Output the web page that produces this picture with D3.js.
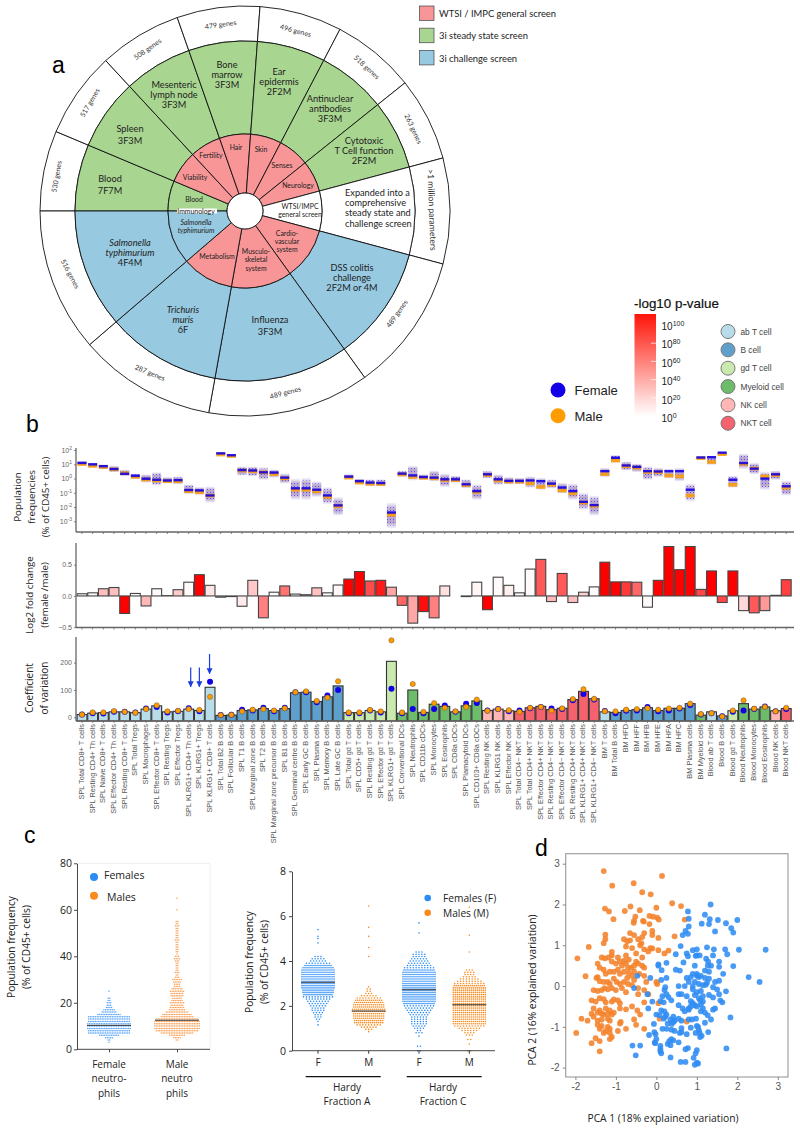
<!DOCTYPE html>
<html><head><meta charset="utf-8">
<script src="https://cdn.jsdelivr.net/npm/d3@7/dist/d3.min.js"></script>
<style>html,body{margin:0;background:#fff}svg{display:block}</style></head><body>
<script>
// ---------- panel a data ----------
const sectorAngles=[180,157.2,132.8,109.3,85.8,62.4,38.7,15,-15,-54.3,-100.2,-139.3,-180];
const innerScreen=["3iS","W","W","W","W","W","W","N","W","W","W","3iC"];
const middleScreen=["3iS","3iS","3iS","3iS","3iS","3iS","3iS","N","3iC","3iC","3iC","3iC"];
const screenNames=["WTSI / IMPC general screen","3i steady state screen","3i challenge screen"];
const geneLabels=["530 genes","517 genes","508 genes","479 genes","496 genes","518 genes","263 genes",">1 million parameters","489 genes","489 genes","287 genes","516 genes"];
// ---------- panel b data ----------
const categories=["SPL Total CD8+ T cells","SPL Resting CD4+ Th cells","SPL Naive CD8+ T cells","SPL Effector CD4+ Th cells","SPL Resting CD8+ T cells","SPL Total Tregs","SPL Macrophages","SPL Effector CD8+ T cells","SPL Resting Tregs","SPL Effector Tregs","SPL KLRG1+ CD4+ Th cells","SPL KLRG1+ Tregs","SPL KLRG1+ CD8+ T cells","SPL Total B2 B cells","SPL Follicular B cells","SPL T1 B cells","SPL Marginal zone B cells","SPL T2 B cells","SPL Marginal zone precursor B cells","SPL B1 B cells","SPL Germinal centre B cells","SPL Early GC B cells","SPL Plasma cells","SPL Memory B cells","SPL Late GC B cells","SPL Total gd T cells","SPL CD5+ gd T cells","SPL Resting gd T cells","SPL Effector gd T cells","SPL KLRG1+ gd T cells","SPL Conventional DCs","SPL Neutrophils","SPL CD11b cDCs","SPL Monocytes","SPL Eosinophils","SPL CD8a cDCs","SPL Plamacytoid DCs","SPL CD103+ CD8a cDCs","SPL Resting NK cells","SPL KLRG1 NK cells","SPL Effector NK cells","SPL Total CD4− NKT cells","SPL Total CD4+ NKT cells","SPL Effector CD4+ NKT cells","SPL Resting CD4− NKT cells","SPL Effector CD4− NKT cells","SPL Resting CD4+ NKT cells","SPL KLRG1+ CD4+ NKT cells","SPL KLRG1+ CD4− NKT cells","BM T cells","BM Total B cells","BM HFD","BM HFF","BM HFB","BM HFE","BM HFA","BM HFC","BM Plasma cells","BM Myeloid cells","Blood ab T cells","Blood B cells","Blood gd T cells","Blood Neutrophils","Blood Monocytes","Blood Eosinophils","Blood NK cells","Blood NKT cells"];
const cellTypes=["ab T cell","B cell","gd T cell","Myeloid cell","NK cell","NKT cell"];
const cellColors=["#b9dcea","#5f9fcb","#c9e9ae","#6cbc6c","#ffb6b6","#f5616c"];
const categoryType=[0,0,0,0,0,0,0,0,0,0,0,0,0,1,1,1,1,1,1,1,1,1,1,1,1,2,2,2,2,2,3,3,3,3,3,3,3,3,4,4,4,5,5,5,5,5,5,5,5,0,1,1,1,1,1,1,1,1,3,0,1,2,3,3,3,4,5];
// population frequency summaries, log10 of %
const freqF=[1.08,.98,.85,.65,.32,.18,-.03,-.1,-.15,-.13,-.82,-.85,-1.2,1.75,1.62,.58,.55,.42,.4,.05,-.7,-.7,-.8,-1.2,-1.9,.12,-.2,-.3,-.33,-2.4,.33,.2,.09,.05,-.07,-.07,-.42,-.9,.28,-.07,-.18,-.18,-.15,-.2,-.37,-.65,-.9,-1.65,-1.88,.5,1.44,.9,.8,.5,.48,.5,.5,-.8,1.46,1.48,1.8,-.1,1.07,.68,-.02,.28,-.56];
const freqM=[1.05,.93,.85,.68,.42,.16,-.03,-.1,-.15,-.15,-.85,-.92,-1.15,1.72,1.62,.6,.55,.47,.35,.05,-.75,-.75,-.85,-1.25,-1.9,.1,-.25,-.33,-.35,-2.5,.33,.15,.09,.05,-.07,-.07,-.42,-.9,.28,-.1,-.18,-.18,-.3,-.55,-.4,-.8,-1,-1.65,-1.88,.35,1.3,.9,.8,.5,.48,.25,.2,-1.15,1.46,1.2,1.75,-.4,1.07,.75,.2,.28,-.6];
const freqLow=[.92,.75,.65,.45,.15,-.05,-.3,-.5,-.35,-.4,-1.1,-1.15,-1.7,1.65,1.5,.2,.15,-.1,.05,-.35,-1.5,-1.5,-1.3,-1.8,-2.6,-.05,-.4,-.55,-.55,-3.5,.1,-.15,-.1,-.2,-.6,-.3,-.7,-1.5,0,-.45,-.4,-.4,-.65,-.8,-.7,-1.05,-1.5,-2.2,-2.6,.1,1.1,.55,.45,-.1,.1,0,-.2,-1.6,1.35,.95,1.6,-.65,.65,.3,-.8,-.1,-1.2];
const freqHigh=[1.22,1.12,1,.9,.62,.35,.3,.45,.1,.15,-.4,-.6,-.55,1.85,1.72,.85,.85,.8,.65,.35,0,.05,-.2,-.6,-1.3,.3,0,-.05,-.05,-1.7,.55,.9,.3,.55,.35,.2,-.05,-.4,.55,.3,.1,.05,.15,.05,-.05,-.3,-.35,-1,-1.2,.75,1.65,1.2,1.05,.85,.75,.7,.75,-.35,1.55,1.6,1.85,.2,1.75,1.1,.5,.55,-.15];
const foldChange=[.035,.05,.115,.135,-.28,.04,-.16,.115,.005,.1,.22,.34,.17,-.02,-.01,-.165,.25,-.35,.06,.16,.03,.02,.13,.05,.175,.27,.39,.24,.25,.14,-.15,-.435,-.25,-.35,.16,0,-.01,.22,-.22,.3,.17,.05,.43,.585,-.09,.36,-.105,.06,.145,.54,.225,.225,.22,-.18,.25,.79,.42,.79,.105,.4,-.105,.4,-.235,-.27,-.235,.01,.26];
const pExponent=[2,2,25,25,100,2,28,2,2,20,2,100,10,2,2,8,22,50,2,55,2,2,24,2,3,100,100,70,90,35,60,35,95,50,12,2,2,4,100,2,6,2,2,65,28,65,25,18,2,100,100,78,60,2,100,100,100,100,72,100,72,100,15,65,40,2,75];
const cvBar=[10,15,17,20,20,17,30,42,20,22,30,25,110,7,8,25,27,32,25,32,90,92,58,75,115,17,17,25,20,205,15,100,18,48,40,20,42,60,25,30,24,22,35,40,28,33,65,95,68,20,18,25,28,35,25,33,33,50,8,20,5,24,50,30,38,24,32];
const cvF=[10,15,14,20,20,18,32,38,18,22,33,22,130,8,9,28,25,35,22,35,92,92,55,80,100,15,15,25,18,105,15,30,15,30,43,20,50,52,25,30,22,25,33,38,32,30,62,85,65,23,15,24,25,38,22,25,32,45,10,15,4,20,25,30,40,22,30];
const cvM=[10,18,18,23,20,17,30,44,22,24,30,27,75,8,9,22,28,30,25,33,92,95,60,72,132,18,18,27,22,282,18,122,20,52,35,22,38,65,24,30,26,20,35,38,25,33,67,103,68,22,22,28,30,33,28,32,35,50,12,15,3,25,62,32,38,22,35];
const pTicks=[0,20,40,60,80,100];
const sexNames=["Female","Male"];
// ---------- panel c data (rows of a binned swarm: value -> number of dots) ----------
const neutroFemale=[[3,1],[4,2],[5,5],[6,12],[7,25],[8,25],[9,26],[10,26],[11,26],[12,25],[13,25],[14,25],[15,14],[16,9],[17,7],[18,4],[19,3],[20,3],[21,2],[22,2],[25,1]];
const neutroMale=[[4,2],[5,5],[6,10],[7,20],[8,26],[9,28],[10,28],[11,28],[12,28],[13,26],[14,20],[15,18],[16,14],[17,10],[18,9],[19,8],[20,9],[21,7],[22,6],[23,8],[24,8],[25,9],[26,7],[27,4],[28,4],[29,5],[30,6],[31,3],[32,2],[33,3],[34,2],[35,2],[36,2],[37,2],[38,3],[39,4],[40,3],[41,1],[42,2],[43,2],[44,2],[45,2],[46,2],[47,3],[48,2],[49,2],[50,2],[51,2],[52,2],[53,3],[54,2],[55,2],[60,1],[65,1]];
const neutroMedians=[10.3,12.5];
const hardyAF=[[1.15,1],[1.3,1],[1.4,2],[1.5,3],[1.6,3],[1.7,4],[1.8,5],[1.9,5],[2,6],[2.1,7],[2.2,8],[2.3,9],[2.4,11],[2.5,15],[2.6,16],[2.7,16],[2.8,17],[2.9,17],[3,17],[3.1,17],[3.2,17],[3.3,17],[3.4,17],[3.5,17],[3.6,17],[3.7,16],[3.8,14],[3.9,9],[4,6],[4.1,5],[4.2,3],[4.8,1],[5,1],[5.1,1],[5.4,1]];
const hardyAM=[[.85,1],[.95,3],[1.05,6],[1.15,9],[1.25,15],[1.35,15],[1.45,16],[1.55,16],[1.65,16],[1.75,17],[1.85,17],[1.95,16],[2.05,16],[2.15,15],[2.25,14],[2.35,9],[2.45,6],[2.55,3],[2.65,2],[2.75,2],[2.85,1],[4.2,1],[4.6,1],[5.1,1],[5.5,1],[6.45,1]];
const hardyCF=[[0,2],[.2,2],[.65,1],[.8,3],[.9,2],[1,4],[1.1,5],[1.2,6],[1.3,6],[1.4,6],[1.5,6],[1.6,7],[1.7,8],[1.8,9],[1.9,10],[2,11],[2.1,16],[2.2,17],[2.3,17],[2.4,17],[2.5,17],[2.6,17],[2.7,17],[2.8,17],[2.9,17],[3,17],[3.1,17],[3.2,17],[3.3,17],[3.4,17],[3.5,17],[3.6,16],[3.7,11],[3.8,9],[3.9,8],[4,7],[4.1,6],[4.2,5],[4.3,5],[4.4,3],[5.25,1],[5.7,1]];
const hardyCM=[[0,2],[.3,1],[.5,2],[.7,3],[.8,4],[.9,6],[1,8],[1.1,11],[1.2,17],[1.3,17],[1.4,17],[1.5,17],[1.6,17],[1.7,17],[1.8,17],[1.9,17],[2,17],[2.1,17],[2.2,17],[2.3,17],[2.4,17],[2.5,17],[2.6,17],[2.7,17],[2.8,17],[2.9,16],[3,11],[3.1,9],[3.2,7],[3.3,5],[3.4,4],[3.5,4],[3.6,3],[4.4,1],[5.15,1],[6.4,1]];
const hardyMedians=[3.05,1.77,2.72,2.05];
const hardyLabels=["F","M","F","M"];
// ---------- panel d data ----------
const pcaMale=[[-1.3,2.82],[.14,2.7],[-.56,2.52],[-1.09,2.46],[-.35,2.3],[-.14,2.25],[.39,2.03],[.61,1.96],[-1.27,1.9],[-1.17,1.83],[-.78,1.84],[-.64,1.95],[-.41,1.86],[0,1.92],[-.17,1.72],[-.08,1.7],[.02,1.68],[.06,1.63],[-.52,1.7],[-.55,1.6],[-.33,1.6],[-.31,1.58],[-1.06,1.64],[-.56,1.55],[-.17,1.52],[.7,1.63],[-.65,1.3],[-.55,1.25],[-.3,1.3],[-.1,1.35],[-.1,1.25],[-1.26,1.26],[-1.26,1.15],[-.8,1.15],[-.72,1.1],[-.65,1.12],[-.45,1.15],[-.35,1.2],[-.37,1.05],[.05,1.18],[.45,1.22],[-1.67,.96],[-1.3,1.05],[-.75,.97],[-.6,.93],[-.4,1],[-.3,.9],[-.15,.93],[-.2,.85],[-.1,.92],[.05,.88],[.2,.8],[.3,.87],[-.75,.75],[-.68,.65],[-.5,.8],[-.35,.7],[-1.1,.84],[-1.1,.75],[-1.18,.7],[-1.35,.7],[-1.27,.68],[-1.95,.68],[-1.1,.6],[-1,.55],[-.95,.7],[-.9,.6],[-.85,.5],[-.8,.62],[-.75,.55],[-.7,.45],[-.68,.32],[-.62,.45],[-.55,.5],[-.5,.6],[-.45,.55],[-.35,.5],[-.3,.45],[-.42,.3],[-.3,.25],[-1.45,.55],[-1.4,.45],[-1.3,.4],[-1.25,.3],[-1.15,.35],[-1.05,.35],[-.95,.4],[-.9,.3],[-.8,.35],[-.72,.2],[-.6,.25],[-.55,.35],[-1.75,.24],[-1.48,.2],[-1.45,.22],[-1.4,.12],[-1.3,.1],[-1.2,.1],[-1.15,.05],[-1.05,.18],[-.98,.1],[-.9,.05],[-.8,.1],[-.7,.05],[-.6,.02],[-.55,.15],[-.45,-.05],[-.3,-.1],[-.25,.1],[0,.1],[.02,.05],[-1.55,-.1],[-1.45,-.12],[-1.35,-.1],[-1.28,-.05],[-1.2,-.08],[-1.1,-.05],[-1,-.1],[-.85,-.05],[-.75,-.15],[-.45,-.2],[-.2,-.2],[-1.6,-.35],[-1.5,-.38],[-1.4,-.3],[-1.3,-.32],[-1.25,-.4],[-1.1,-.38],[-1.05,-.33],[-.95,-.35],[-.9,-.42],[-.3,-.4],[.05,-.42],[-1.55,-.55],[-1.4,-.6],[-1.25,-.55],[-1.15,-.6],[-.75,-.57],[-.6,-.5],[-.47,-.6],[-1.6,-.68],[-1.55,-.75],[-1.45,-.65],[-1.35,-.68],[-1.3,-.7],[-1.2,-.68],[-1.1,-.7],[-1.05,-.65],[-.9,-.55],[-.4,-.7],[-1.85,-.8],[-1.7,-.85],[-1.45,-.85],[-1.35,-.82],[-1.2,-.8],[-1.15,-.85],[-.88,-.88],[-.55,-.82],[.08,-.8],[.75,-.87],[-1.45,-.95],[-1.35,-.98],[-1.2,-1],[-1.15,-1.05],[-.9,-.92],[-.75,-1.05],[-.5,-.95],[-.3,-1.05],[-1.98,-1.15],[-1.4,-1.05],[-1.3,-1.15],[-1.25,-1.1],[-1.15,-1.15],[-.95,-1.1],[-1.5,-1.28],[-1.4,-1.35],[-1.1,-1.25],[-1.15,-1.3],[-1.6,-1.4],[-1.4,-1.6]];
const pcaFemale=[[1.34,2],[.78,1.83],[1.2,1.75],[1.32,1.64],[1.52,1.62],[2,1.62],[.8,1.65],[1.12,1.53],[1.3,1.52],[1.72,1.54],[1.85,1.42],[1.9,1.31],[.8,1.46],[.72,1.35],[.65,1.25],[.78,1.28],[1.45,1.34],[.6,.98],[.9,.88],[1,.9],[.75,.8],[1.25,.95],[1.42,.9],[1.7,.9],[1.75,.78],[2.04,.89],[2.7,.89],[.48,.78],[.78,.73],[1,.75],[1.07,.75],[.97,.74],[1.23,.67],[1.4,.75],[1.55,.6],[1.28,.6],[1.35,.5],[1.27,.5],[.67,.58],[.05,.53],[.05,.5],[.25,.57],[.95,.5],[1.55,.47],[1.9,.49],[.48,.4],[.58,.38],[.13,.39],[1,.3],[1.2,.38],[1.3,.35],[1.65,.3],[2.28,.22],[2.55,.1],[-.47,.25],[-.15,.2],[.12,.15],[.25,.2],[.75,.2],[.85,.22],[.9,.3],[1,.25],[1.05,.22],[1.1,.25],[1.2,.2],[1.3,.18],[.8,.1],[.95,.1],[1.05,.05],[1.25,.08],[1.45,.1],[1.55,.13],[-.55,-.05],[.22,-.03],[.55,0],[.7,0],[.9,0],[1.15,.02],[1.22,.03],[1.4,-.03],[1.5,-.08],[1.72,-.13],[.2,-.1],[.9,-.08],[1,-.15],[1.1,-.12],[-.22,-.2],[.15,-.25],[.25,-.2],[.3,-.27],[.55,-.2],[.62,-.2],[.75,-.25],[.95,-.22],[1.05,-.3],[1.15,-.25],[1.3,-.22],[1.4,-.28],[1.55,-.2],[-.1,-.38],[.1,-.37],[.18,-.4],[.37,-.35],[.85,-.37],[.9,-.42],[1.08,-.35],[1.1,-.45],[1.15,-.38],[1.58,-.35],[1.63,-.4],[-.2,-.55],[.55,-.47],[.65,-.55],[.8,-.55],[.85,-.5],[.95,-.47],[1,-.5],[1.15,-.55],[1.45,-.55],[1.4,-.58],[0,-.7],[.08,-.72],[.12,-.6],[.2,-.62],[.25,-.7],[.7,-.62],[.8,-.58],[1.1,-.62],[1.2,-.65],[1.27,-.72],[-.06,-.93],[.18,-.8],[.22,-.75],[.35,-.82],[.42,-.75],[.45,-.85],[.55,-.8],[.62,-.85],[.8,-.82],[.88,-.82],[.98,-.8],[1.2,-.9],[1.35,-.82],[1.83,-.77],[.28,-.92],[.38,-.93],[.42,-.88],[.25,-1.05],[.15,-1.05],[.37,-1.07],[.45,-1.1],[.62,-1.03],[.85,-1.02],[1.03,-1],[1,-.98],[1.05,-1.08],[1.28,-1.13],[-.05,-1.13],[-.02,-1.18],[-.18,-1.2],[0,-1.3],[.58,-1.15],[.62,-1.13],[.75,-1.18],[.97,-1.15],[1.07,-1.15],[1.12,-1.22],[1.08,-1.25],[-.04,-1.38],[-.03,-1.4],[.32,-1.35],[.42,-1.33],[.37,-1.3],[.55,-1.38],[.28,-1.42],[.35,-1.45],[-.59,-1.46],[-.4,-1.46],[.1,-1.47],[.1,-1.55],[.1,-1.6],[.12,-1.65],[.78,-1.52],[.72,-1.55],[1,-1.57],[.97,-1.65],[1.73,-1.53],[-.51,-1.7],[.35,-1.75],[.6,-1.86],[.72,-1.86],[.92,-1.76],[1,-1.88],[.95,-1.93],[1.03,-1.9]];

// ---------- drawing ----------
const SANS="'Liberation Sans',Arial,sans-serif", OPEN="'Open Sans',sans-serif", LATO="Lato,sans-serif";
const svg=d3.select("body").append("svg").attr("width",800).attr("height",1130).style("background","#fff");
const txt=(x,y,s,o={})=>svg.append("text").attr("x",x).attr("y",y).text(s)
  .attr("font-family",o.f||OPEN).attr("font-size",o.s||9).attr("fill",o.c||"#222")
  .attr("text-anchor",o.a||"start").attr("font-style",o.i?"italic":"normal")
  .attr("transform",o.r!=null?`rotate(${o.r},${x},${y})`:null);
const lines=(x,y,arr,dy,o={})=>arr.forEach((s,i)=>{
  txt(x,y+i*dy,s,Object.assign({a:"middle"},o,{i:o.ital&&o.ital.includes(i)}));});
const vlines=(x,cy,arr,dx,o)=>arr.forEach((s,i)=>txt(x+i*dx,cy,s,Object.assign({a:"middle",r:-90},o)));
[["a",52,73],["b",26,432],["c",24,843],["d",535,856]].forEach(d=>txt(d[1],d[2],d[0],{f:SANS,s:23,c:"#000"}));

// ----- a: polar chart -----
const screenColor={W:"#f79597","3iS":"#a8d58f","3iC":"#97c9e1",N:"#fff"};
const CX=245,CY=211;
const pol=svg.append("g").attr("transform",`translate(${CX},${CY})`);
const rad=a=>(90-a)*Math.PI/180;
const ringArc=(r0,r1)=>d3.arc().innerRadius(r0).outerRadius(r1);
const sectors=d3.range(12).map(i=>({a0:rad(sectorAngles[i]),a1:rad(sectorAngles[i+1]),i}));
const drawRing=(r0,r1,fill)=>pol.append("g").selectAll("path").data(sectors).join("path")
  .attr("d",d=>ringArc(r0,r1)({startAngle:d.a0,endAngle:d.a1}))
  .attr("fill",d=>fill(d.i)).attr("stroke","#111").attr("stroke-width",.9);
drawRing(170,205,()=>"#fff");
drawRing(77,170,i=>screenColor[middleScreen[i]]);
drawRing(18,77,i=>screenColor[innerScreen[i]]);
pol.append("circle").attr("r",18).attr("fill","#fff").attr("stroke","#111").attr("stroke-width",.9);
const geneRot=[-80,-60,-35,-8,15,42,65,88,-55,-15,22,62];
const genePos=[[59,175],[92,102],[149,49],[221,25],[295,31],[365,67],[411,128],[429,208],[399,313],[286,393],[149,373],[68,273]];
geneLabels.forEach((g,i)=>txt(genePos[i][0],genePos[i][1]+2,g,{a:"middle",f:LATO,s:i==7?8.6:7,r:geneRot[i],c:"#333"}));
const F=9.2;
const ML={s:F,f:LATO,c:"#222"};
lines(110,182,["Blood","7F7M"],12.3,ML);
lines(130,132,["Spleen","3F3M"],12,ML);
lines(174,88,["Mesenteric","lymph node","3F3M"],10.2,ML);
lines(227,68,["Bone","marrow","3F3M"],10.2,ML);
lines(279,75,["Ear","epidermis","2F2M"],10.2,ML);
lines(330,102,["Antinuclear","antibodies","3F3M"],10.2,ML);
lines(364,144,["Cytotoxic","T Cell function","2F2M"],10.2,ML);
["Expanded into a","comprehensive","steady state and","challenge screen"].forEach((s,i)=>txt(345,196+i*10.2,s,ML));
lines(352,271,["DSS colitis","challenge","2F2M or 4M"],10.2,ML);
lines(270,323,["Influenza","3F3M"],11.5,ML);
lines(183,313,["Trichuris","muris","6F"],10.2,Object.assign({ital:[0,1]},ML));
lines(130,246,["Salmonella","typhimurium","4F4M"],10.2,Object.assign({ital:[0,1]},ML));
const SL={s:6.9,f:LATO,c:"#222"};
lines(195,179.5,["Viability"],8,SL);
lines(211,157.5,["Fertility"],8,SL);
lines(236,150,["Hair"],8,SL);
lines(261,151.5,["Skin"],8,SL);
lines(282,168,["Senses"],8,SL);
lines(298,188,["Neurology"],8,SL);
lines(194,202,["Blood"],8,SL);
svg.append("rect").attr("x",177).attr("y",208.5).attr("width",40).attr("height",5).attr("fill","#fff");
lines(196,213.5,["Immunology"],8,SL);
lines(196,224.5,["Salmonella","typhimurium"],8.2,Object.assign({ital:[0,1]},SL));
lines(217,259,["Metabolism"],8,SL);
lines(256,254,["Musculo-","skeletal","system"],8.3,SL);
lines(287,235.5,["Cardio-","vascular","system"],8.3,SL);
lines(300,209,["WTSI/IMPC","general screen"],8.2,SL);
["W","3iS","3iC"].forEach((k,i)=>{
  svg.append("rect").attr("x",419.5).attr("y",6+i*22.2).attr("width",14.5).attr("height",14.5)
    .attr("fill",screenColor[k]).attr("stroke","#555").attr("stroke-width",.8);
  txt(439,16.5+i*22.5,screenNames[i],{s:9.4,f:LATO});
});

// ----- b legends -----
const sexColor=["#1400e6","#ff9d00"];
sexNames.forEach((s,i)=>{
  svg.append("circle").attr("cx",558).attr("cy",390+i*25.7).attr("r",7.5).attr("fill",sexColor[i]);
  txt(574.5,395+i*25.7,s,{f:SANS,s:13,c:"#222"});
});
const pY=d3.scaleLinear().domain([0,100]).range([416,325]);
const pLabelY=d3.scaleLinear().domain([0,100]).range([422,330]);
const pColor=d3.scaleLinear().domain([0,100]).range(["#ffffff","#ff0000"]).clamp(true);
const defs=svg.append("defs");
const lg=defs.append("linearGradient").attr("id","pg").attr("x1",0).attr("x2",0).attr("y1",1).attr("y2",0);
lg.append("stop").attr("offset",0).attr("stop-color","#ffffff");
lg.append("stop").attr("offset",1).attr("stop-color","#ff1408");
svg.append("rect").attr("x",634.5).attr("y",314).attr("width",21.5).attr("height",102).attr("fill","url(#pg)");
txt(634,308,"-log10 p-value",{f:SANS,s:13.4,c:"#111"}).attr("stroke","#111").attr("stroke-width",.2);
pTicks.forEach(p=>{
  if(p>0&&p<100)svg.append("line").attr("x1",651).attr("x2",656).attr("y1",pY(p)).attr("y2",pY(p)).attr("stroke","#fff").attr("stroke-opacity",.7);
  const t=txt(661.5,pLabelY(p),"10",{f:SANS,s:10,c:"#222"});
  t.append("tspan").attr("dy",-4).attr("font-size",7).text(p);
});
cellTypes.forEach((s,i)=>{
  svg.append("circle").attr("cx",728).attr("cy",331.5+i*18.35).attr("r",7).attr("fill",cellColors[i]).attr("stroke","#7a7a7a").attr("stroke-width",1);
  txt(740.5,334.5+i*18.35,s,{f:SANS,s:8.3,c:"#444"});
});

// ----- b: shared x -----
const x=d3.scaleBand().domain(categories).range([76.67,791.56]);
const W=x.bandwidth();
const xc=c=>x(c)+W/2;
const styleAxis=g=>{g.select(".domain").attr("stroke","#666").attr("stroke-width",1.3);
  g.selectAll(".tick line").attr("stroke","#666").attr("stroke-width",.8);
  g.selectAll(".tick text").attr("font-family",SANS).attr("font-size",7).attr("fill","#666");};
const xLine=(y,lbl)=>{const g=svg.append("g").attr("transform",`translate(0,${y})`).call(d3.axisBottom(x).tickSize(2).tickSizeOuter(0).tickPadding(3)).call(styleAxis);
  g.select(".domain").attr("d",`M76,0H794`);
  if(lbl){g.selectAll(".tick text").attr("transform","rotate(-90)").attr("text-anchor","end").attr("x",-3).attr("y",0).attr("dy",0).attr("dx",0)
     .attr("font-size",7.4).attr("fill","#555").attr("dominant-baseline","middle");}
  else g.selectAll(".tick text").remove();};

// top
const yF=d3.scaleLinear().domain([-3,2]).range([521.3,450]);
const gr=defs.append("linearGradient").attr("id","cl").attr("x1",0).attr("x2",0).attr("y1",0).attr("y2",1);
[[0,.05],[.25,.5],[.75,.5],[1,.05]].forEach(s=>gr.append("stop").attr("offset",s[0]).attr("stop-color","#6b52c8").attr("stop-opacity",s[1]));
const pat=defs.append("pattern").attr("id","speck").attr("patternUnits","userSpaceOnUse").attr("width",3).attr("height",3);
pat.append("rect").attr("x",0).attr("y",0).attr("width",1).attr("height",1).attr("fill","#2a10e0").attr("opacity",.8);
pat.append("rect").attr("x",1.5).attr("y",1.5).attr("width",1).attr("height",1).attr("fill","#ff9d00").attr("opacity",.8);
const msk=defs.append("linearGradient").attr("id","fade").attr("x1",0).attr("x2",0).attr("y1",0).attr("y2",1);
[[0,.15],[.25,1],[.75,1],[1,.15]].forEach(s=>msk.append("stop").attr("offset",s[0]).attr("stop-color","#fff").attr("stop-opacity",s[1]));
const fr=svg.append("g");
categories.forEach((c,i)=>{
  const cx=xc(c),yt=yF(freqHigh[i]),h=yF(freqLow[i])-yF(freqHigh[i]);
  fr.append("rect").attr("x",cx-4.5).attr("width",9).attr("y",yt).attr("height",h).attr("fill","url(#cl)");
  fr.append("rect").attr("x",cx-4.5).attr("width",9).attr("y",yt+h*.12).attr("height",h*.76).attr("fill","url(#speck)").attr("opacity",.7);
  fr.append("rect").attr("x",cx-4.5).attr("width",9).attr("y",yF(freqM[i])-1.2).attr("height",3.6).attr("fill",sexColor[1]).attr("opacity",.85);
  fr.append("rect").attr("x",cx-4.5).attr("width",9).attr("y",yF(freqF[i])-1.4).attr("height",2.4).attr("fill",sexColor[0]).attr("opacity",.9);
});
const gy1=svg.append("g").attr("transform","translate(76,0)").call(d3.axisLeft(yF).tickValues([-3,-2,-1,0,1,2]).tickSize(2).tickSizeOuter(0).tickPadding(2)).call(styleAxis);
gy1.select(".domain").attr("d","M0,448V532");
gy1.selectAll(".tick text").each(function(d){const t=d3.select(this);t.text("10");t.append("tspan").attr("dy",-3).attr("font-size",5).text(d);});
xLine(532,false);
vlines(21,497,["Population","frequencies","(% of CD45+ cells)"],14,{s:9.8,c:"#222"});

// middle
const yFC=d3.scaleLinear().domain([-.5,.5]).range([627.2,564.7]);
svg.append("g").selectAll("rect").data(categories).join("rect")
  .attr("x",d=>x(d)+.4).attr("width",W-.8)
  .attr("y",(d,i)=>yFC(Math.max(0,foldChange[i]))).attr("height",(d,i)=>Math.abs(yFC(foldChange[i])-yFC(0)))
  .attr("fill",(d,i)=>pColor(pExponent[i])).attr("stroke","#444").attr("stroke-width",1.1);
const gy2=svg.append("g").attr("transform","translate(76,0)").call(d3.axisLeft(yFC).tickValues([-.5,0,.5]).tickFormat(d3.format(".1f")).tickSize(2).tickSizeOuter(0).tickPadding(2)).call(styleAxis);
gy2.select(".domain").attr("d","M0,543V628");
xLine(627.5,false);
vlines(33,595,["Log2 fold change","(female /male)"],14.7,{s:9.8,c:"#222"});

// bottom
const yCV=d3.scaleLinear().domain([0,200]).range([717.3,662.7]);
svg.append("g").selectAll("rect").data(categories).join("rect")
  .attr("x",d=>x(d)+.4).attr("width",W-.8)
  .attr("y",(d,i)=>yCV(cvBar[i])).attr("height",(d,i)=>721-yCV(cvBar[i]))
  .attr("fill",(d,i)=>cellColors[categoryType[i]]).attr("stroke","#333").attr("stroke-width",1.1);
const gc=svg.append("g");
gc.selectAll("circle.f").data(categories).join("circle").attr("class","f").attr("cx",xc).attr("cy",(d,i)=>yCV(cvF[i])).attr("r",3).attr("fill",sexColor[0]);
gc.selectAll("circle.m").data(categories).join("circle").attr("class","m").attr("cx",xc).attr("cy",(d,i)=>yCV(cvM[i])).attr("r",2.6).attr("fill",sexColor[1]).attr("stroke","#775522").attr("stroke-width",.5);
const gy3=svg.append("g").attr("transform","translate(76,0)").call(d3.axisLeft(yCV).tickValues([0,100,200]).tickSize(2).tickSizeOuter(0).tickPadding(2)).call(styleAxis);
gy3.select(".domain").attr("d","M0,637V721");
xLine(721,true);
vlines(33,688,["Coefficient","of variation"],14.7,{s:10,c:"#222"});
defs.append("marker").attr("id","arr").attr("viewBox","0 0 10 10").attr("refX",9).attr("refY",5).attr("markerWidth",6).attr("markerHeight",7).attr("markerUnits","userSpaceOnUse").attr("orient","auto")
  .append("path").attr("d","M0,0L10,5L0,10Z").attr("fill","#1a3fe0");
[[10,82,182],[11,82,182],[12,130,232]].forEach(a=>{
  const ax=xc(categories[a[0]])+(a[0]==10?2:a[0]==12?-.5:0);
  svg.append("line").attr("x1",ax).attr("x2",ax).attr("y1",yCV(a[2])).attr("y2",yCV(a[1]+30))
   .attr("stroke","#1a3fe0").attr("stroke-width",1.2).attr("marker-end","url(#arr)");
});

// ----- c: swarms -----
const swarmColor=["#2b8cf5","#f98a1e"];
const swarm=(rows,cx,y,col,pitch,r,sparsePitch)=>{
  const g=svg.append("g").attr("fill",col);
  rows.forEach(row=>{
    const p=(sparsePitch&&row[1]<12)?sparsePitch:pitch;
    g.selectAll(null).data(d3.range(row[1])).join("circle")
      .attr("cx",k=>cx+(k-(row[1]-1)/2)*p).attr("cy",y(row[0])).attr("r",r);
  });
};
const yN=d3.scaleLinear().domain([0,80]).range([1049.3,863.3]);
const xN=d3.scalePoint().domain(["Female","Male"]).range([109,177]);
svg.append("path").attr("d","M77,863.3H210V1049.3").attr("fill","none").attr("stroke","#eee");
swarm(neutroFemale,xN("Female"),yN,"#5aa5f7",1.7,.75);
swarm(neutroMale,xN("Male"),yN,"#f9a25a",1.65,.75);
[["Female",0],["Male",1]].forEach(d=>svg.append("line").attr("x1",xN(d[0])-22).attr("x2",xN(d[0])+22).attr("y1",yN(neutroMedians[d[1]])).attr("y2",yN(neutroMedians[d[1]])).attr("stroke","#333").attr("stroke-width",1));
const axStyle=g=>{g.select(".domain").attr("stroke","#333").attr("stroke-width",.9);g.selectAll(".tick line").attr("stroke","#333").attr("stroke-width",.9);
  g.selectAll(".tick text").attr("font-family",OPEN).attr("font-size",10.5).attr("fill","#222");};
svg.append("g").attr("transform","translate(77,0)").call(d3.axisLeft(yN).tickValues([0,20,40,60,80]).tickSize(3).tickPadding(2).tickSizeOuter(0)).call(axStyle);
const gxN=svg.append("g").attr("transform","translate(0,1049.3)").call(d3.axisBottom(xN).tickSize(3).tickFormat("").tickSizeOuter(0)).call(axStyle);
gxN.select(".domain").attr("d","M77,0H210");
vlines(15,947,["Population frequency","(% of CD45+ cells)"],15,{s:10.2});
[["Females",94,877,104,879],["Males",94,895.7,107,901]].forEach((d,i)=>{
  svg.append("circle").attr("cx",d[1]).attr("cy",d[2]).attr("r",4).attr("fill",swarmColor[i]);
  txt(d[3],d[4],d[0],{s:10.5});
});
lines(109,1068,["Female","neutro-","phils"],14.4,{s:10});
lines(177,1068,["Male","neutro","phils"],14.4,{s:10});

const yH=d3.scaleLinear().domain([0,8]).range([1050.7,871.3]);
const hardyPos=[318,368.7,419,469.3];
const hardyX=d3.scaleOrdinal().domain(d3.range(4)).range(hardyPos);
[hardyAF,hardyAM,hardyCF,hardyCM].forEach((rows,i)=>{
  swarm(rows,hardyX(i),yH,swarmColor[i%2],2,.8,2.9);
  svg.append("line").attr("x1",hardyX(i)-17).attr("x2",hardyX(i)+17).attr("y1",yH(hardyMedians[i])).attr("y2",yH(hardyMedians[i])).attr("stroke","#333").attr("stroke-width",1.1);
});
svg.append("g").attr("transform","translate(292,0)").call(d3.axisLeft(yH).tickValues([0,2,4,6,8]).tickSize(3).tickPadding(3).tickSizeOuter(0)).call(axStyle);
const gxH=svg.append("g").attr("transform","translate(0,1050.7)");
gxH.append("line").attr("x1",292).attr("x2",495).attr("stroke","#333").attr("stroke-width",.9);
hardyLabels.forEach((s,i)=>{gxH.append("line").attr("x1",hardyX(i)).attr("x2",hardyX(i)).attr("y2",3).attr("stroke","#333");
  txt(hardyX(i),1066,s,{a:"middle",s:10});});
[[305.7,380.7,347,"Hardy","Fraction A"],[406.7,481.7,443,"Hardy","Fraction C"]].forEach(d=>{
  svg.append("line").attr("x1",d[0]).attr("x2",d[1]).attr("y1",1076.7).attr("y2",1076.7).attr("stroke","#111").attr("stroke-width",1.3);
  lines(d[2],1091,[d[3],d[4]],14,{s:10});
});
vlines(253,962,["Population frequency","(% of CD45+ cells)"],14.5,{s:10.2});
[["Females (F)",898,902],["Males (M)",912.7,916.5]].forEach((d,i)=>{
  svg.append("circle").attr("cx",427.7).attr("cy",d[1]).attr("r",3.3).attr("fill",swarmColor[i]);
  txt(443,d[2],d[0],{s:10.2});
});

// ----- d: PCA -----
const xP=d3.scaleLinear().domain([-2,3]).range([575.4,777.8]);
const yP=d3.scaleLinear().domain([-2,3]).range([1067.6,863.7]);
svg.append("rect").attr("x",565.7).attr("y",853.7).attr("width",222.3).attr("height",223.3).attr("fill","#fff").attr("stroke","#999").attr("stroke-width",1.1);
const dots=(pts,col)=>svg.append("g").selectAll("circle").data(pts).join("circle")
  .attr("cx",d=>xP(d[0])).attr("cy",d=>yP(d[1])).attr("r",2.9).attr("fill",col).attr("fill-opacity",.88);
dots(pcaMale,"#f4822a");
dots(pcaFemale,"#2f8cf2");
const pAxis=g=>{g.select(".domain").remove();g.selectAll(".tick line").attr("stroke","#888");g.selectAll(".tick text").attr("font-family",SANS).attr("font-size",10).attr("fill","#555");};
const pFmt=d=>String(d);
svg.append("g").attr("transform","translate(0,1077)").call(d3.axisBottom(xP).tickValues([-2,-1,0,1,2,3]).tickFormat(pFmt).tickSize(3).tickPadding(3)).call(pAxis);
svg.append("g").attr("transform","translate(565.7,0)").call(d3.axisLeft(yP).tickValues([-2,-1,0,1,2,3]).tickFormat(pFmt).tickSize(3).tickPadding(3)).call(pAxis);
txt(663,1122,"PCA 1 (18% explained variation)",{a:"middle",s:10.3});
txt(536,990,"PCA 2 (16%  explained variation)",{a:"middle",s:10.3,r:-90});
</script></body></html>
